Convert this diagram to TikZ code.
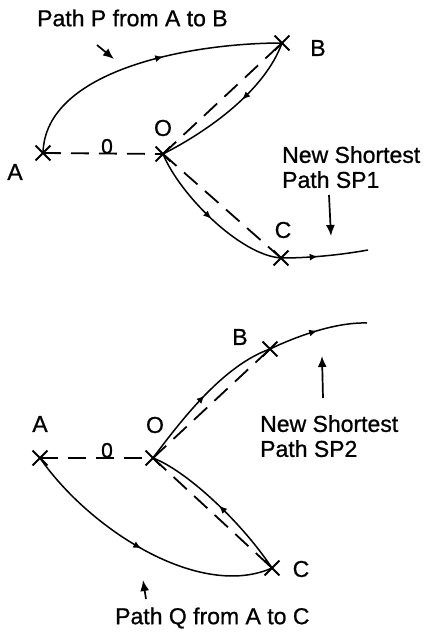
\documentclass[tikz,border=0pt]{standalone}
\usepackage{fontspec}
\setmainfont{Liberation Sans}[FakeBold=0.8]
\usetikzlibrary{arrows.meta,decorations.markings,shapes.misc}
\tikzset{
  xpt/.style={cross out, draw, minimum size=13pt, inner sep=0pt, line width=1.9pt},
  lbl/.style={font=\fontsize{23}{25}\selectfont, inner sep=0pt},
  zero/.style={font=\fontsize{21}{23}\selectfont, inner sep=0pt},
  dsh/.style={dash pattern=on 18pt off 10pt, line width=1.8pt},
  crv/.style={line width=1.5pt},
  midtip/.style={postaction=decorate, decoration={markings,
      mark=at position #1 with {\arrow{Latex[length=8pt,width=7pt]}}}},
  ptr/.style={line width=1.7pt, -{Latex[length=11pt,width=9pt]}},
}
\begin{document}
\begin{tikzpicture}[x=1pt, y=-1pt]
\useasboundingbox (0,0) rectangle (425,633);

% ---------- upper figure ----------
\node[xpt] (A1) at (43,153) {};
\node[xpt] (O1) at (163,154) {};
\node[xpt] (B1) at (282,43) {};
\node[xpt] (C1) at (281,258) {};
\coordinate (E1) at (368,250);

\node[lbl] at (15,172) {A};
\node[lbl] at (163,128) {O};
\node[lbl] at (318,48) {B};
\node[lbl] at (283,230) {C};
\node[zero, anchor=south] at (107,154) {0};

% distances from O
\draw[dsh] (A1.center) -- (O1.center);
\draw[dsh] (O1.center) -- (B1.center);
\draw[dsh] (O1.center) -- (C1.center);

% path P
\draw[crv, midtip=0.58] (A1.center) .. controls (45,70) and (190,43) .. (B1.center);
% shortest path SP1
\draw[crv, midtip=0.42] (B1.center) .. controls (265,90) and (210,130) .. (O1.center);
\draw[crv, midtip=0.5] (O1.center) .. controls (180,195) and (240,255) .. (C1.center);
\draw[crv, midtip=0.42] (C1.center) .. controls (310,258) and (340,255) .. (E1);

\node[lbl, anchor=west] (t1) at (37,18) {Path P from A to B};
\coordinate (p1s) at (97,45);
\coordinate (p1e) at (114,59);
\draw[ptr] (p1s) -- (p1e);

\node[lbl, anchor=north west, align=left] (s1) at (282,146) {New Shortest\\Path SP1};
\coordinate (q1s) at (329,195);
\coordinate (q1e) at (331,236);
\draw[ptr] (q1s) -- (q1e);

% ---------- lower figure ----------
\node[xpt] (A2) at (40,458) {};
\node[xpt] (O2) at (153,458) {};
\node[xpt] (B2) at (270,349) {};
\node[xpt] (C2) at (272,568) {};
\coordinate (E2) at (367,323);

\node[lbl] at (40,424) {A};
\node[lbl] at (155,425) {O};
\node[lbl] at (240,337) {B};
\node[lbl] at (301,569) {C};
\node[zero, anchor=south] at (107,458) {0};

\draw[dsh] (A2.center) -- (O2.center);
\draw[dsh] (O2.center) -- (B2.center);
\draw[dsh] (O2.center) -- (C2.center);

% shortest path SP2
\draw[crv, midtip=0.5] (O2.center) .. controls (185,415) and (225,365) .. (B2.center);
\draw[crv, midtip=0.5] (B2.center) .. controls (295,337) and (335,322) .. (E2);
\draw[crv, midtip=0.5] (C2.center) .. controls (240,520) and (185,470) .. (O2.center);
% path Q
\draw[crv, midtip=0.5] (A2.center) .. controls (90,530) and (200,600) .. (C2.center);

\node[lbl, anchor=north west, align=left] (s2) at (260,415) {New Shortest\\Path SP2};
\coordinate (q2s) at (323,398);
\coordinate (q2e) at (322,356);
\draw[ptr] (q2s) -- (q2e);

\node[lbl, anchor=west] (t2) at (115,618) {Path Q from A to C};
\coordinate (p2s) at (146,599);
\coordinate (p2e) at (143,580);
\draw[ptr] (p2s) -- (p2e);
\end{tikzpicture}
\end{document}
